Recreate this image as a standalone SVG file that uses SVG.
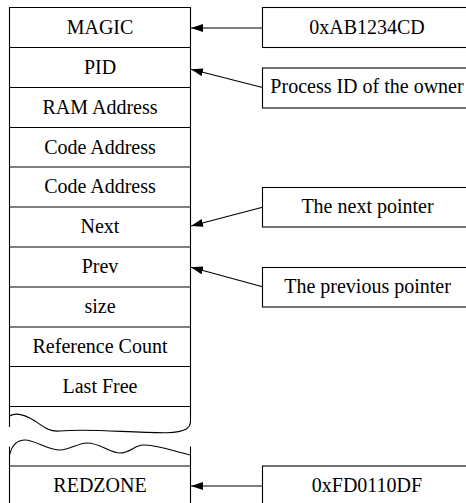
<svg xmlns="http://www.w3.org/2000/svg" width="466" height="503" viewBox="0 0 466 503">
<style>
.ln{fill:none;stroke:#000;stroke-width:1.1}
.bx{fill:#fff;stroke:#000;stroke-width:1.1}
.t{font-family:'Liberation Serif','DejaVu Serif',serif;font-size:20px;fill:#000;text-anchor:middle}
.ar{fill:none;stroke:#000;stroke-width:1.1;marker-end:url(#ah)}
</style>
<defs>
<marker id="ah" markerUnits="userSpaceOnUse" markerWidth="13" markerHeight="8" refX="12" refY="4" orient="auto">
<path d="M0,0 L12,4 L0,8 Z" fill="#000"/>
</marker>
</defs>
<rect width="466" height="503" fill="#fff"/>
<g id="column">
<path class="ln" d="M9.5,427 V7.5 H190.5 V421"/>
<path class="ln" d="M9.5,416 C16,412 24,414 35,421 C45,428 50,432 60,431 C90,428 130,433 167,432.7 C186,432 190.5,428 190.5,421"/>
<path class="ln" d="M9.5,455 C12,445 18,440 25,440 C35,440 48,450 60,450 C70,450 78,443 87,443 C100,443 110,453 120,453 C130,453 135,445 143,445 C160,445 175,452 190.5,455"/>
<path class="ln" d="M9.5,446.5 V503 M190.5,446.5 V503 M9.5,466 H190.5"/>
</g>
<g font-family="Liberation Serif, DejaVu Serif, serif">
<g id="row-magic"><path class="ln" d="M9.5,47.5 H190.5"/><text class="t" x="100" y="34">MAGIC</text></g>
<g id="row-pid"><path class="ln" d="M9.5,87.5 H190.5"/><text class="t" x="100" y="74">PID</text></g>
<g id="row-ram"><path class="ln" d="M9.5,127.5 H190.5"/><text class="t" x="100" y="114">RAM Address</text></g>
<g id="row-code1"><path class="ln" d="M9.5,167 H190.5"/><text class="t" x="100" y="153.5">Code Address</text></g>
<g id="row-code2"><path class="ln" d="M9.5,207 H190.5"/><text class="t" x="100" y="193">Code Address</text></g>
<g id="row-next"><path class="ln" d="M9.5,247 H190.5"/><text class="t" x="100" y="233">Next</text></g>
<g id="row-prev"><path class="ln" d="M9.5,287 H190.5"/><text class="t" x="100" y="273">Prev</text></g>
<g id="row-size"><path class="ln" d="M9.5,327 H190.5"/><text class="t" x="100" y="313">size</text></g>
<g id="row-refcount"><path class="ln" d="M9.5,366.5 H190.5"/><text class="t" x="100" y="353">Reference Count</text></g>
<g id="row-lastfree"><path class="ln" d="M9.5,406.5 H190.5"/><text class="t" x="100" y="393">Last Free</text></g>
<g id="row-redzone"><text class="t" x="100" y="492">REDZONE</text></g>
<g id="box-magic"><rect class="bx" x="262.5" y="7.5" width="210" height="40"/><text class="t" x="367" y="33.5">0xAB1234CD</text></g>
<g id="box-pid"><rect class="bx" x="262.5" y="68" width="210" height="40"/><text class="t" x="367" y="93">Process ID of the owner</text></g>
<g id="box-next"><rect class="bx" x="262.5" y="187.5" width="210" height="39.5"/><text class="t" x="367.5" y="213">The next pointer</text></g>
<g id="box-prev"><rect class="bx" x="262.5" y="267.5" width="210" height="39.5"/><text class="t" x="367.5" y="293">The previous pointer</text></g>
<g id="box-redzone"><rect class="bx" x="262.5" y="466" width="210" height="45"/><text class="t" x="367" y="492">0xFD0110DF</text></g>
</g>
<g id="connectors">
<path class="ar" d="M262.5,28 H191"/>
<path class="ar" d="M262.5,87.5 L191,69.3"/>
<path class="ar" d="M262.5,207.3 L191,226"/>
<path class="ar" d="M262.5,286.7 L191,267.3"/>
<path class="ar" d="M262.5,486 H191"/>
</g>
</svg>
